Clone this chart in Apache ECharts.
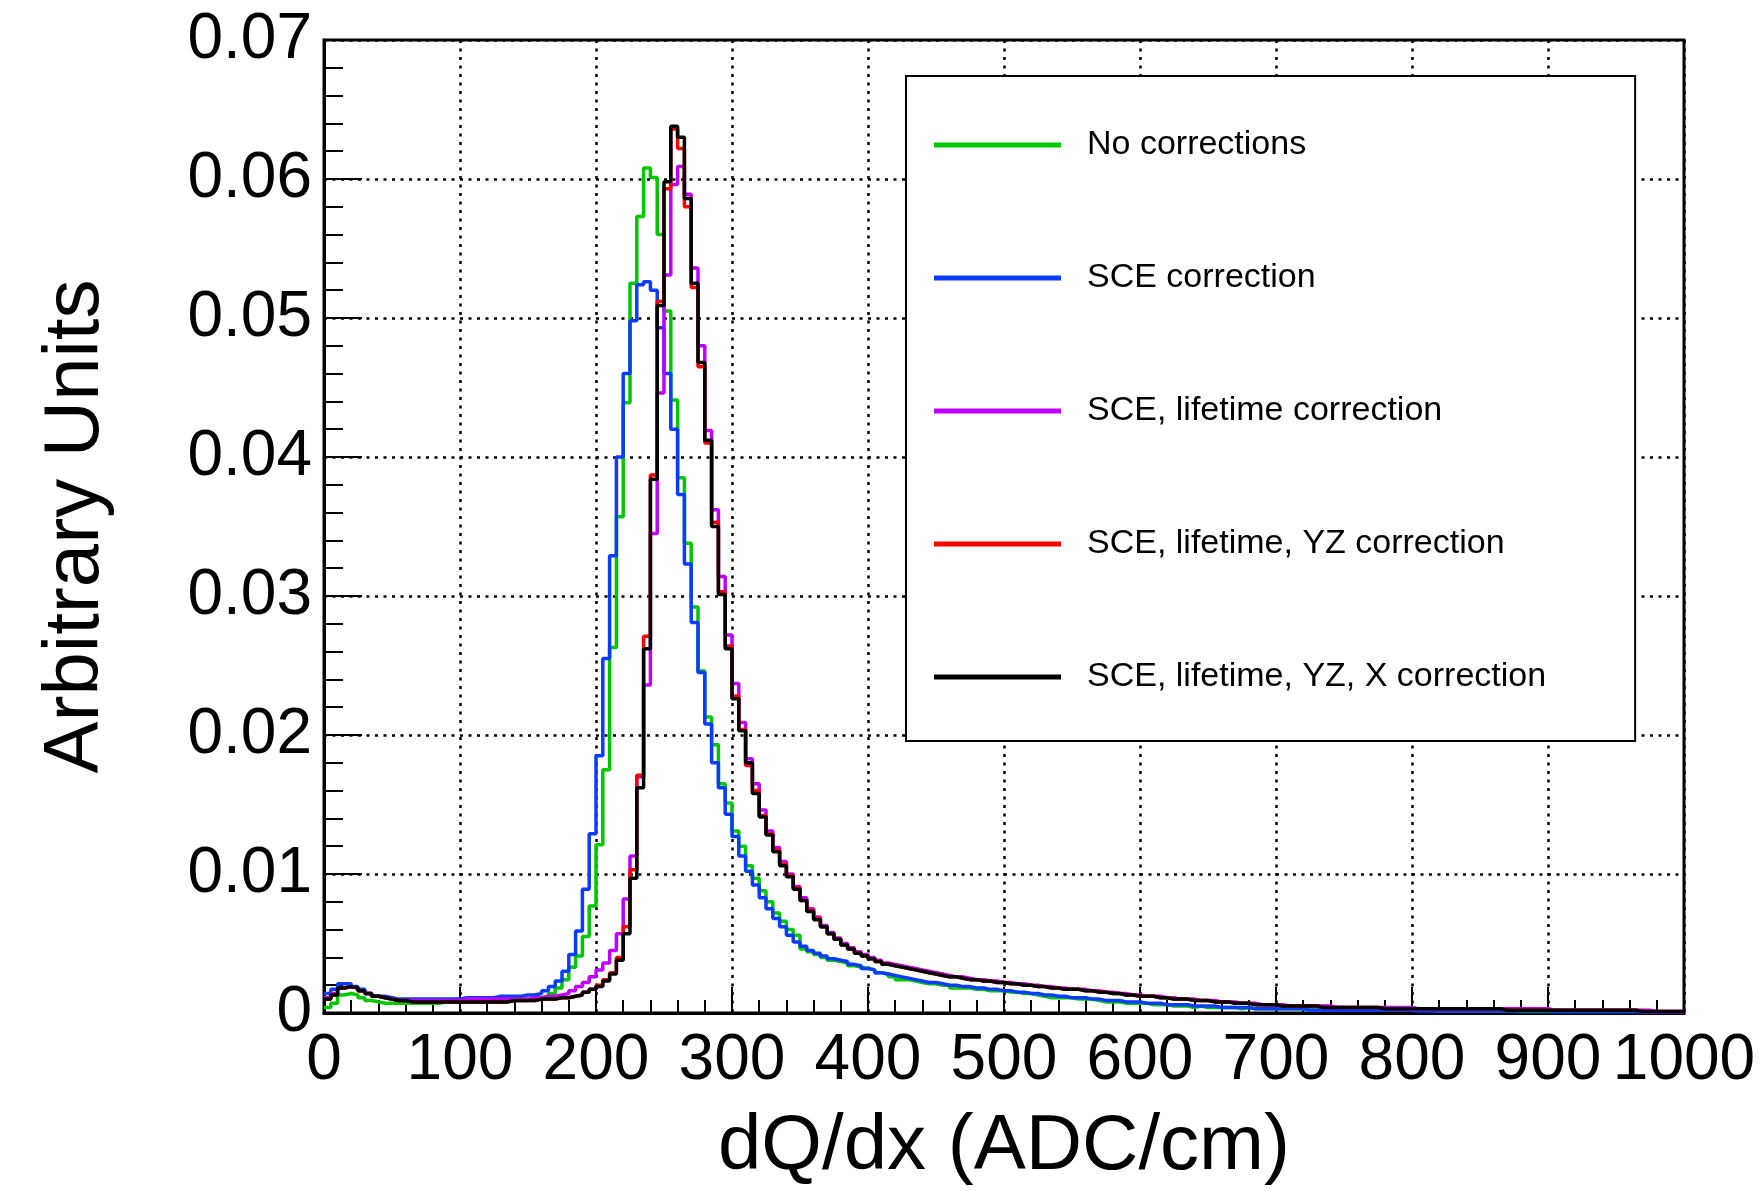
<!DOCTYPE html>
<html>
<head>
<meta charset="utf-8">
<title>dQ/dx corrections</title>
<script src="https://cdn.jsdelivr.net/npm/echarts@6/dist/echarts.min.js"></script>
<style>
  html, body { margin: 0; padding: 0; background: #fff; }
  #main { width: 1761px; height: 1191px; }
</style>
</head>
<body>
<div id="main"></div>
<script>
// histogram: 200 bins of 5 ADC/cm from 0 to 1000
var binWidth = 5;
var xTicks = [0, 100, 200, 300, 400, 500, 600, 700, 800, 900, 1000];
var yTickLabels = ['0', '0.01', '0.02', '0.03', '0.04', '0.05', '0.06', '0.07'];
var seriesNames = ['No corrections', 'SCE correction', 'SCE, lifetime correction',
                   'SCE, lifetime, YZ correction', 'SCE, lifetime, YZ, X correction'];
var seriesColors = ['#00c800', '#0a3cff', '#c000ff', '#ff0000', '#000000'];

var noCorr = [
  0.0004,0.0007,0.0013,0.0014,0.0013,0.0011,0.0009,0.0008,0.0007,0.0007,
  0.0007,0.0007,0.0007,0.0007,0.0007,0.0007,0.0007,0.0008,0.0008,0.0008,
  0.0008,0.0008,0.0008,0.0008,0.0008,0.0008,0.0008,0.0009,0.0009,0.0009,
  0.0010,0.0011,0.0012,0.0014,0.0018,0.0024,0.0033,0.0041,0.0055,0.0077,
  0.0121,0.0175,0.0263,0.0357,0.0439,0.0525,0.0573,0.0608,0.0601,0.0560,
  0.0505,0.0441,0.0385,0.0338,0.0292,0.0246,0.0213,0.0193,0.0165,0.0151,
  0.0131,0.0120,0.0106,0.0097,0.0088,0.0080,0.0072,0.0066,0.0060,0.0056,
  0.0046,0.0044,0.0042,0.0040,0.0038,0.0037,0.0036,0.0034,0.0033,0.0032,
  0.0031,0.0029,0.0028,0.0026,0.0024,0.0024,0.0023,0.0022,0.0021,0.0021,
  0.0020,0.0020,0.0018,0.0018,0.0018,0.0017,0.0017,0.0016,0.0016,0.0016,
  0.0015,0.0015,0.0014,0.0014,0.0013,0.0012,0.0011,0.0011,0.0011,0.0011,
  0.0010,0.0010,0.0010,0.0009,0.0008,0.0008,0.0008,0.0007,0.0007,0.0007,
  0.0007,0.0006,0.0006,0.0006,0.0005,0.0005,0.0005,0.0004,0.0005,0.0004,
  0.0004,0.0004,0.0004,0.0004,0.0003,0.0004,0.0003,0.0003,0.0003,0.0003,
  0.0003,0.0003,0.0003,0.0003,0.0002,0.0003,0.0002,0.0002,0.0002,0.0002,
  0.0002,0.0002,0.0002,0.0002,0.0002,0.0002,0.0002,0.0002,0.0002,0.0002,
  0.0002,0.0002,0.0002,0.00015,0.00015,0.00015,0.00015,0.00015,0.00015,0.00015,
  0.00015,0.00015,0.00015,0.00015,0.00015,0.0001,0.0001,0.0001,0.0001,0.0001,
  0.0001,0.0001,0.0001,0.0001,0.0001,0.0001,0.0001,0.0001,0.0001,0.0001,
  0.0001,0.0001,0.0001,0.0001,0.00005,0.00005,0.00005,0.00005,0.00005,0.00005
];

var sce = [
  0.0014,0.0017,0.0021,0.0021,0.0019,0.0017,0.0014,0.0012,0.0012,0.0011,
  0.0010,0.0010,0.0010,0.0010,0.0010,0.0010,0.0010,0.0010,0.0010,0.0010,
  0.0011,0.0011,0.0011,0.0011,0.0011,0.0012,0.0012,0.0012,0.0012,0.0013,
  0.0013,0.0014,0.0016,0.0019,0.0023,0.0030,0.0042,0.0059,0.0089,0.0129,
  0.0185,0.0255,0.0329,0.0400,0.0460,0.0498,0.0524,0.0526,0.0520,0.0493,
  0.0460,0.0420,0.0373,0.0323,0.0281,0.0245,0.0208,0.0180,0.0162,0.0143,
  0.0127,0.0113,0.0102,0.0092,0.0083,0.0075,0.0068,0.0062,0.0056,0.0051,
  0.0048,0.0045,0.0043,0.0041,0.0039,0.0038,0.0037,0.0035,0.0034,0.0032,
  0.0031,0.0029,0.0028,0.0027,0.0026,0.0025,0.0024,0.0023,0.0022,0.0022,
  0.0021,0.0020,0.0020,0.0019,0.0019,0.0018,0.0018,0.0017,0.0017,0.0016,
  0.0016,0.0015,0.0015,0.0014,0.0014,0.0013,0.0013,0.0012,0.0012,0.0011,
  0.0011,0.0011,0.0010,0.0010,0.0009,0.0009,0.0009,0.0008,0.0008,0.0008,
  0.0007,0.0007,0.0007,0.0006,0.0006,0.0006,0.0006,0.0005,0.0005,0.0005,
  0.0005,0.0004,0.0004,0.0004,0.0004,0.0004,0.0003,0.0003,0.0003,0.0003,
  0.0003,0.0003,0.0003,0.0003,0.0002,0.0002,0.0002,0.0002,0.0002,0.0002,
  0.0002,0.0002,0.0002,0.0002,0.0002,0.0002,0.0002,0.0002,0.0002,0.0002,
  0.00015,0.00015,0.00015,0.00015,0.00015,0.00015,0.00015,0.00015,0.00015,0.00015,
  0.00015,0.00015,0.00015,0.00015,0.00015,0.00015,0.00015,0.00015,0.00015,0.00015,
  0.0001,0.0001,0.0001,0.0001,0.0001,0.0001,0.0001,0.0001,0.0001,0.0001,
  0.0001,0.0001,0.0001,0.00005,0.00005,0.00005,0.00005,0.00005,0.00005,0.00005
];

var sceLife = [
  0.0011,0.0014,0.0018,0.0019,0.0018,0.0016,0.0014,0.0012,0.0011,0.0010,
  0.0009,0.0009,0.0009,0.0009,0.0009,0.0009,0.0009,0.0009,0.0009,0.0009,
  0.0010,0.0010,0.0010,0.0010,0.0010,0.0010,0.0010,0.0010,0.0010,0.0010,
  0.0011,0.0011,0.0012,0.0012,0.0013,0.0014,0.0016,0.0019,0.0022,0.0026,
  0.0031,0.0036,0.0045,0.0057,0.0082,0.0113,0.0170,0.0236,0.0345,0.0446,
  0.0531,0.0596,0.0609,0.0589,0.0536,0.0480,0.0419,0.0362,0.0314,0.0272,
  0.0237,0.0209,0.0183,0.0165,0.0146,0.0131,0.0119,0.0109,0.0100,0.0091,
  0.0083,0.0075,0.0069,0.0063,0.0058,0.0054,0.0050,0.0047,0.0044,0.0042,
  0.0040,0.0038,0.0036,0.0035,0.0034,0.0033,0.0032,0.0031,0.0030,0.0029,
  0.0028,0.0027,0.0026,0.0026,0.0025,0.0024,0.0024,0.0023,0.0023,0.0022,
  0.0022,0.0021,0.0021,0.0020,0.0020,0.0019,0.0019,0.0018,0.0018,0.0017,
  0.0017,0.0017,0.0016,0.0016,0.0015,0.0015,0.0014,0.0014,0.0013,0.0013,
  0.0012,0.0012,0.0012,0.0011,0.0011,0.0010,0.0010,0.0010,0.0009,0.0009,
  0.0009,0.0008,0.0008,0.0008,0.0007,0.0007,0.0007,0.0006,0.0006,0.0006,
  0.0006,0.0005,0.0005,0.0005,0.0005,0.0005,0.0005,0.0005,0.0004,0.0004,
  0.0004,0.0004,0.0004,0.0004,0.0004,0.0004,0.0004,0.0004,0.0004,0.0004,
  0.0003,0.0003,0.0003,0.0003,0.0003,0.0003,0.0003,0.0003,0.0003,0.0003,
  0.0003,0.0003,0.0003,0.0003,0.0003,0.0003,0.0003,0.0003,0.0003,0.0003,
  0.0002,0.0002,0.0002,0.0002,0.0002,0.0002,0.0002,0.0002,0.0002,0.0002,
  0.0002,0.0002,0.0002,0.0002,0.0002,0.0001,0.0001,0.0001,0.0001,0.0001
];

var sceLifeYZ = [
  0.0010,0.0013,0.0018,0.0019,0.0018,0.0016,0.0014,0.0012,0.0011,0.0010,
  0.0009,0.0009,0.0008,0.0008,0.0008,0.0008,0.0008,0.0008,0.0008,0.0008,
  0.0008,0.0008,0.0008,0.0008,0.0008,0.0008,0.0008,0.0009,0.0009,0.0009,
  0.0009,0.0010,0.0010,0.0010,0.0011,0.0011,0.0012,0.0013,0.0015,0.0017,
  0.0020,0.0024,0.0029,0.0040,0.0062,0.0103,0.0171,0.0271,0.0387,0.0512,
  0.0593,0.0636,0.0622,0.0580,0.0522,0.0465,0.0410,0.0353,0.0303,0.0264,
  0.0228,0.0204,0.0178,0.0160,0.0142,0.0129,0.0117,0.0107,0.0099,0.0090,
  0.0081,0.0074,0.0068,0.0062,0.0057,0.0053,0.0049,0.0046,0.0043,0.0041,
  0.0039,0.0037,0.0035,0.0034,0.0033,0.0032,0.0031,0.0030,0.0029,0.0028,
  0.0027,0.0026,0.0026,0.0025,0.0024,0.0024,0.0023,0.0023,0.0022,0.0022,
  0.0021,0.0021,0.0020,0.0020,0.0019,0.0019,0.0018,0.0018,0.0017,0.0017,
  0.0017,0.0016,0.0016,0.0015,0.0015,0.0014,0.0014,0.0013,0.0013,0.0012,
  0.0012,0.0012,0.0011,0.0011,0.0010,0.0010,0.0010,0.0009,0.0009,0.0009,
  0.0008,0.0008,0.0008,0.0007,0.0007,0.0007,0.0006,0.0006,0.0006,0.0006,
  0.0005,0.0005,0.0005,0.0005,0.0005,0.0005,0.0004,0.0004,0.0004,0.0004,
  0.0004,0.0004,0.0004,0.0004,0.0004,0.0003,0.0003,0.0003,0.0003,0.0003,
  0.0003,0.0003,0.0003,0.0003,0.0003,0.0003,0.0003,0.0003,0.0003,0.0003,
  0.0003,0.0003,0.0003,0.0002,0.0002,0.0002,0.0002,0.0002,0.0002,0.0002,
  0.0002,0.0002,0.0002,0.0002,0.0002,0.0002,0.0002,0.0002,0.0002,0.0002,
  0.0002,0.0002,0.0002,0.0001,0.0001,0.0001,0.0001,0.0001,0.0001,0.0001
];

var sceLifeYZX = [
  0.0010,0.0013,0.0018,0.0019,0.0018,0.0016,0.0014,0.0012,0.0011,0.0010,
  0.0009,0.0009,0.0008,0.0008,0.0008,0.0008,0.0008,0.0008,0.0008,0.0008,
  0.0008,0.0008,0.0008,0.0008,0.0008,0.0008,0.0008,0.0009,0.0009,0.0009,
  0.0009,0.0010,0.0010,0.0010,0.0011,0.0011,0.0012,0.0013,0.0015,0.0017,
  0.0019,0.0023,0.0028,0.0038,0.0057,0.0097,0.0162,0.0262,0.0384,0.0509,
  0.0598,0.0638,0.0630,0.0586,0.0525,0.0468,0.0412,0.0350,0.0301,0.0262,
  0.0226,0.0203,0.0180,0.0158,0.0141,0.0128,0.0116,0.0106,0.0098,0.0089,
  0.0081,0.0073,0.0067,0.0062,0.0057,0.0053,0.0049,0.0046,0.0043,0.0041,
  0.0039,0.0037,0.0035,0.0034,0.0033,0.0032,0.0031,0.0030,0.0029,0.0028,
  0.0027,0.0026,0.0026,0.0025,0.0024,0.0024,0.0023,0.0023,0.0022,0.0022,
  0.0021,0.0021,0.0020,0.0020,0.0019,0.0019,0.0018,0.0018,0.0017,0.0017,
  0.0017,0.0016,0.0016,0.0015,0.0015,0.0014,0.0014,0.0013,0.0013,0.0012,
  0.0012,0.0012,0.0011,0.0011,0.0010,0.0010,0.0010,0.0009,0.0009,0.0009,
  0.0008,0.0008,0.0008,0.0007,0.0007,0.0007,0.0006,0.0006,0.0006,0.0006,
  0.0005,0.0005,0.0005,0.0005,0.0005,0.0005,0.0004,0.0004,0.0004,0.0004,
  0.0004,0.0004,0.0004,0.0004,0.0004,0.0003,0.0003,0.0003,0.0003,0.0003,
  0.0003,0.0003,0.0003,0.0003,0.0003,0.0003,0.0003,0.0003,0.0003,0.0003,
  0.0003,0.0003,0.0003,0.0002,0.0002,0.0002,0.0002,0.0002,0.0002,0.0002,
  0.0002,0.0002,0.0002,0.0002,0.0002,0.0002,0.0002,0.0002,0.0002,0.0002,
  0.0002,0.0002,0.0002,0.0001,0.0001,0.0001,0.0001,0.0001,0.0001,0.0001
];

var allSeries = [noCorr, sce, sceLife, sceLifeYZ, sceLifeYZX];

// turn bin contents into [left edge, value] points plus the closing right edge
function toSteps(vals) {
    var pts = [];
    for (var i = 0; i < vals.length; i++) {
        pts.push([i * binWidth, vals[i]]);
    }
    pts.push([vals.length * binWidth, vals[vals.length - 1]]);
    return pts;
}

var font = 'Liberation Sans, Arial, Helvetica, sans-serif';
var dotted = { color: '#000', width: 2.5, type: [3, 5.5] };

var chart = echarts.init(document.getElementById('main'), null, { renderer: 'canvas' });

var series = [];
for (var s = 0; s < allSeries.length; s++) {
    series.push({
        name: seriesNames[s],
        type: 'line',
        step: 'end',
        symbol: 'none',
        color: seriesColors[s],
        lineStyle: { color: seriesColors[s], width: 3.5 },
        data: toSteps(allSeries[s]),
        z: 2 + s
    });
}

var option = {
    animation: false,
    backgroundColor: '#fff',
    grid: {
        left: 324, right: 77, top: 40, bottom: 171,
        show: true, borderColor: '#000', borderWidth: 3,
        containLabel: false
    },
    legend: {
        data: seriesNames,
        orient: 'vertical',
        left: 906, top: 76,
        icon: 'rect',
        itemWidth: 127, itemHeight: 5,
        itemGap: 93,
        padding: [49, 89, 44, 28],
        backgroundColor: '#fff',
        borderColor: '#000', borderWidth: 2,
        selectedMode: false,
        itemStyle: { borderWidth: 0 },
        textStyle: { fontFamily: font, fontSize: 34, color: '#000', lineHeight: 40, padding: [0, 0, 0, 21] }
    },
    xAxis: {
        type: 'value',
        min: 0, max: 1000, interval: 100,
        name: 'dQ/dx (ADC/cm)',
        nameLocation: 'middle',
        nameGap: 95,
        nameTextStyle: { fontFamily: font, fontSize: 78, color: '#000' },
        axisLine: { show: true, onZero: false, lineStyle: { color: '#000', width: 3 } },
        axisTick: { show: true, inside: true, length: 26, lineStyle: { color: '#000', width: 2 } },
        minorTick: { show: true, splitNumber: 5, length: 13, lineStyle: { color: '#000', width: 2 } },
        splitLine: { show: true, lineStyle: dotted },
        axisLabel: {
            fontFamily: font, fontSize: 64, color: '#000', margin: 16,
            formatter: function (v) { return String(xTicks[Math.round(v / 100)]); }
        }
    },
    yAxis: {
        type: 'value',
        min: 0, max: 0.07, interval: 0.01,
        name: 'Arbitrary Units',
        nameLocation: 'middle',
        nameGap: 209,
        nameTextStyle: { fontFamily: font, fontSize: 78, color: '#000' },
        axisLine: { show: true, onZero: false, lineStyle: { color: '#000', width: 3 } },
        axisTick: { show: true, inside: true, length: 38, lineStyle: { color: '#000', width: 2 } },
        minorTick: { show: true, splitNumber: 5, length: 19, lineStyle: { color: '#000', width: 2 } },
        splitLine: { show: true, lineStyle: dotted },
        axisLabel: {
            fontFamily: font, fontSize: 64, color: '#000', margin: 12,
            formatter: function (v) { return yTickLabels[Math.round(v * 100)]; }
        }
    },
    series: series
};

chart.setOption(option);
</script>
</body>
</html>
